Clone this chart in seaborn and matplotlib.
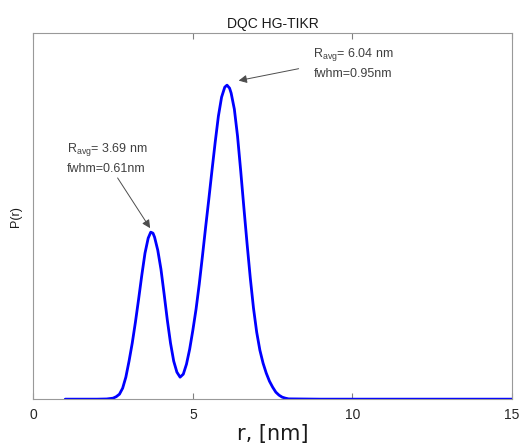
import numpy as np
import pandas as pd
import matplotlib
matplotlib.use('Agg')
import matplotlib.pyplot as plt
import seaborn as sns

# Значения (r в нм, P(r) в условных единицах)
r_nm = [1.0, 1.5, 2.0, 2.3, 2.5, 2.6, 2.7, 2.8, 2.9, 3.0, 3.1, 3.2, 3.3, 3.4, 3.5,
        3.6, 3.68, 3.75, 3.8, 3.9, 4.0, 4.1, 4.2, 4.3, 4.4, 4.5, 4.6, 4.7, 4.8,
        4.9, 5.0, 5.1, 5.2, 5.3, 5.4, 5.5, 5.6, 5.7, 5.8, 5.9, 6.0, 6.07, 6.15,
        6.2, 6.3, 6.4, 6.5, 6.6, 6.7, 6.8, 6.9, 7.0, 7.1, 7.2, 7.3, 7.4, 7.5,
        7.6, 7.7, 7.8, 7.9, 8.0, 9.0, 12.0, 15.0]
p_r = [0, 0, 0, 0.2, 1, 2.5, 5, 11, 22, 38, 56, 77, 100, 124, 146,
       161, 167, 166, 162, 149, 130, 105, 79, 56, 38, 27, 22, 25, 35,
       50, 69, 90, 115, 143, 172, 200, 229, 257, 283, 302, 312, 314, 311,
       306, 290, 263, 228, 191, 155, 121, 91, 67, 49, 36, 26, 18, 12,
       7, 4, 2, 1, 0.3, 0, 0, 0]

df = pd.DataFrame({'r': r_nm, 'P': p_r})

sns.set_style('white')
plt.rcParams['font.family'] = ['Liberation Sans', 'DejaVu Sans']

fig = plt.figure(figsize=(5.22, 4.48), dpi=100)
ax = fig.add_axes([0.0638, 0.109, 0.917, 0.817])

sns.lineplot(data=df, x='r', y='P', color='#0000ff', linewidth=2, ax=ax)

ax.set_xlim(0, 15)
ax.set_ylim(0, 366)
ax.set_xticks([0, 5, 10, 15])
ax.set_yticks([])
ax.tick_params(axis='x', direction='in', length=4, top=True, bottom=True,
               labelsize=10, color='0.5', labelcolor='0.15', pad=6)
for s in ax.spines.values():
    s.set_color('0.6')
    s.set_linewidth(0.8)

ax.set_title('DQC HG-TIKR', fontsize=10, pad=4, color='0.1')
ax.set_xlabel('r, [nm]', fontsize=15, family=['DejaVu Sans'], labelpad=2, color='0.1')
ax.set_ylabel('P(r)', fontsize=9, labelpad=8, color='0.1')

arrow = dict(arrowstyle='-|>', color='0.3', lw=0.7, mutation_scale=12)
ax.annotate('R$_\\mathregular{avg}$= 3.69 nm\nfwhm=0.61nm', xy=(3.66, 171), xytext=(1.06, 258),
            fontsize=9, color='0.25', ha='left', va='top', linespacing=1.5,
            arrowprops=dict(arrow, shrinkA=0, shrinkB=0, relpos=(0.6, 0)))
ax.annotate('', xy=(6.35, 318), xytext=(8.4, 331), arrowprops=arrow)
ax.text(8.78, 353, 'R$_\\mathregular{avg}$= 6.04 nm\nfwhm=0.95nm', fontsize=9, color='0.25',
        ha='left', va='top', linespacing=1.5)

fig.savefig('out.png', dpi=100)
